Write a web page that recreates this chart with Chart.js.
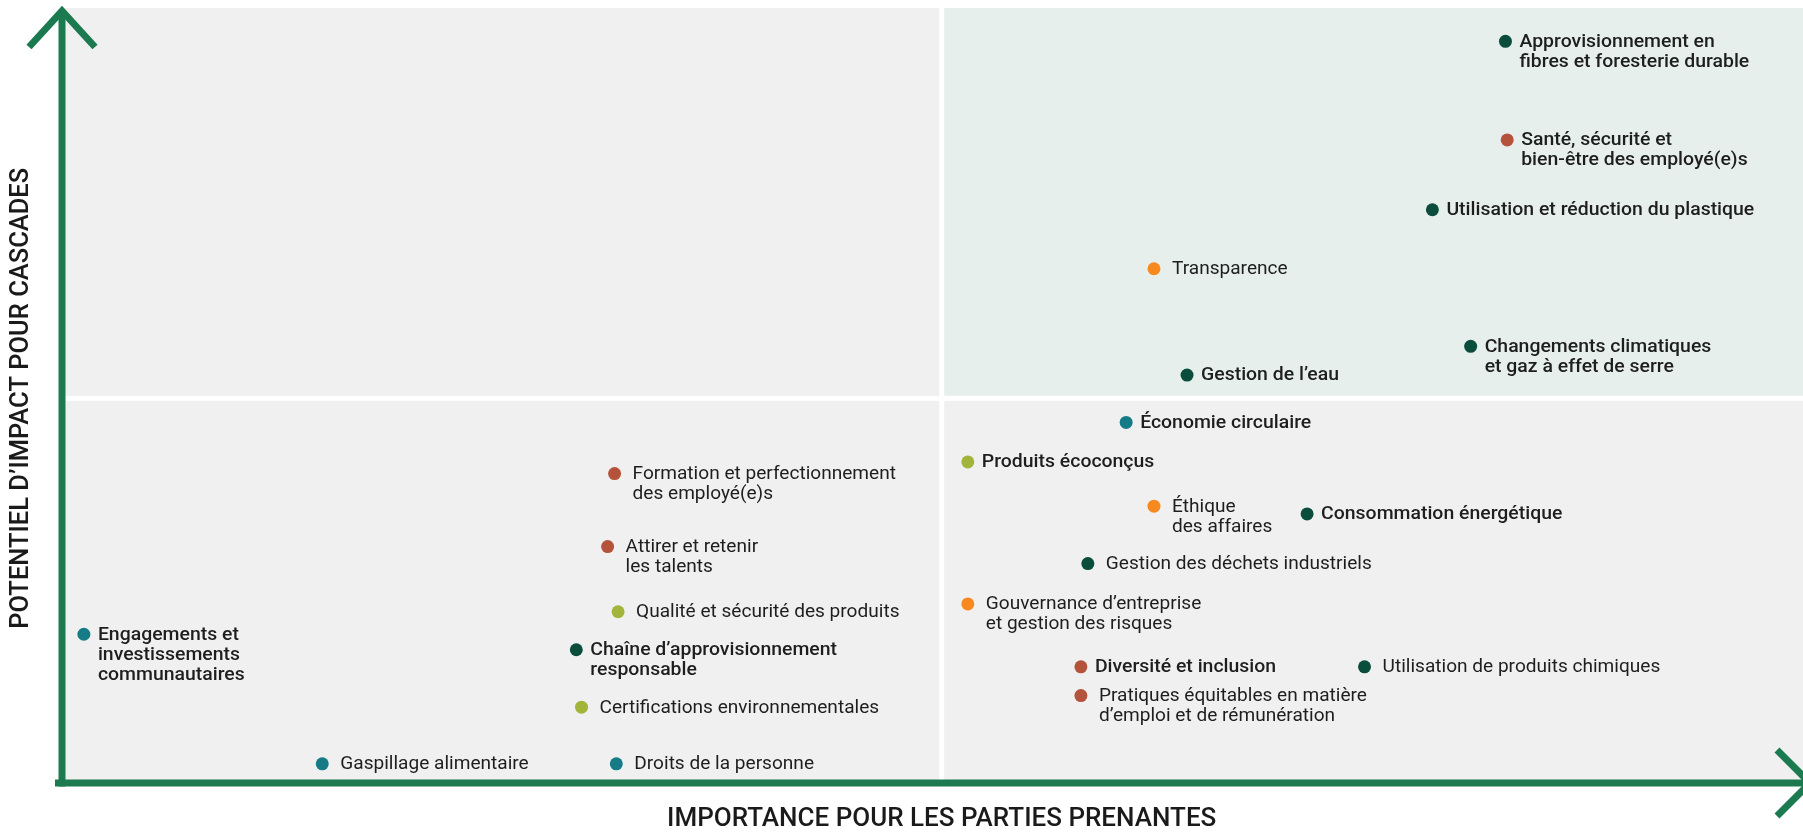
<!DOCTYPE html>
<html>
<head>
<meta charset="utf-8">
<script src="https://cdn.jsdelivr.net/npm/chart.js@4/dist/chart.umd.min.js"></script>
<style>
  html, body { margin: 0; padding: 0; background: #ffffff; }
  #wrap { width: 1803px; height: 833px; }
</style>
</head>
<body>
<div id="wrap"><canvas id="c" width="1803" height="833"></canvas></div>
<script>
// ---- Data ----
const topicLabels = [
  ["Approvisionnement en", "fibres et foresterie durable"],
  ["Santé, sécurité et", "bien-être des employé(e)s"],
  ["Utilisation et réduction du plastique"],
  ["Transparence"],
  ["Changements climatiques", "et gaz à effet de serre"],
  ["Gestion de l’eau"],
  ["Économie circulaire"],
  ["Produits écoconçus"],
  ["Éthique", "des affaires"],
  ["Consommation énergétique"],
  ["Gestion des déchets industriels"],
  ["Gouvernance d’entreprise", "et gestion des risques"],
  ["Diversité et inclusion"],
  ["Utilisation de produits chimiques"],
  ["Pratiques équitables en matière", "d’emploi et de rémunération"],
  ["Formation et perfectionnement", "des employé(e)s"],
  ["Attirer et retenir", "les talents"],
  ["Qualité et sécurité des produits"],
  ["Chaîne d’approvisionnement", "responsable"],
  ["Certifications environnementales"],
  ["Engagements et", "investissements", "communautaires"],
  ["Gaspillage alimentaire"],
  ["Droits de la personne"]
];
// Importance pour les parties prenantes (0-100)
const importance = [82.9, 83.0, 78.7, 62.7, 80.9, 64.6, 61.1, 52.0, 62.7, 71.5, 58.9, 52.0, 58.5, 74.8, 58.5, 31.7, 31.3, 31.9, 29.5, 29.8, 1.2, 14.9, 31.8];
// Potentiel d'impact pour Cascades (0-100)
const impact = [95.7, 83.0, 74.0, 66.4, 56.4, 52.7, 46.6, 41.5, 35.8, 34.8, 28.4, 23.2, 15.1, 15.1, 11.4, 40.0, 30.6, 22.2, 17.3, 9.9, 19.3, 2.6, 2.6];
// Theme of each topic
const themes = ["env", "people", "env", "gov", "env", "env", "community", "product", "gov", "env", "env", "gov", "people", "env", "people", "people", "people", "product", "env", "product", "community", "community", "community"];
// Priority topics (bold labels)
const priority = [true, true, true, false, true, true, true, true, false, true, false, false, true, false, false, false, false, false, true, false, true, false, false];

const xAxisTitle = "IMPORTANCE POUR LES PARTIES PRENANTES";
const yAxisTitle = "POTENTIEL D’IMPACT POUR CASCADES";
const xMid = 50.5;
const yMid = 49.7;

// ---- Styles ----
const themeColors = {
  env: "#0b4d3c",
  people: "#b5523b",
  gov: "#f7891f",
  community: "#147b87",
  product: "#a3b43a"
};
const axisGreen = "#1b7a4f";

const points = importance.map((x, i) => ({ x: x, y: impact[i] }));

const backgroundPlugin = {
  id: "quadrants",
  beforeDatasetsDraw(chart) {
    const { ctx, chartArea, scales } = chart;
    const xm = scales.x.getPixelForValue(xMid);
    const ym = scales.y.getPixelForValue(yMid);
    ctx.save();
    ctx.fillStyle = "#f0f0f0";
    ctx.fillRect(chartArea.left + 2, chartArea.top, chartArea.right - chartArea.left - 2, chartArea.bottom - chartArea.top);
    ctx.fillStyle = "#e6efeb";
    ctx.fillRect(xm, chartArea.top, chartArea.right - xm, ym - chartArea.top);
    ctx.fillStyle = "#ffffff";
    ctx.fillRect(xm - 2.5, chartArea.top, 5, chartArea.bottom - chartArea.top);
    ctx.fillRect(chartArea.left, ym - 2.5, chartArea.right - chartArea.left, 5);
    ctx.restore();
  }
};

const labelPlugin = {
  id: "pointLabels",
  afterDatasetsDraw(chart) {
    const { ctx } = chart;
    const meta = chart.getDatasetMeta(0);
    ctx.save();
    ctx.fillStyle = "#1e1e1e";
    ctx.textBaseline = "middle";
    ctx.textAlign = "left";
    meta.data.forEach((el, i) => {
      const bold = priority[i];
      ctx.font = (bold ? "500" : "400") + " 17.5px Roboto";
      const gap = bold ? 14 : 18;
      const sx = bold ? 1.11 : 1.09;
      topicLabels[i].forEach((line, j) => {
        ctx.save();
        ctx.translate(el.x + gap, el.y + 1 + j * 20);
        ctx.scale(sx, 1);
        ctx.fillText(line, 0, 0);
        ctx.restore();
      });
    });
    ctx.restore();
  }
};

const axesPlugin = {
  id: "arrowAxes",
  afterDraw(chart) {
    const { ctx, chartArea } = chart;
    const L = chartArea.left - 1;
    const B = chartArea.bottom - 1;
    ctx.save();
    ctx.strokeStyle = axisGreen;
    ctx.lineWidth = 7;
    ctx.lineJoin = "miter";
    ctx.lineCap = "butt";
    // vertical axis
    ctx.beginPath();
    ctx.moveTo(L, B + 3.5);
    ctx.lineTo(L, chartArea.top + 3);
    ctx.stroke();
    ctx.beginPath();
    ctx.moveTo(L - 33, chartArea.top + 39);
    ctx.lineTo(L, chartArea.top + 3);
    ctx.lineTo(L + 33, chartArea.top + 39);
    ctx.stroke();
    // horizontal axis
    ctx.beginPath();
    ctx.moveTo(L - 7, B);
    ctx.lineTo(chartArea.right + 5, B);
    ctx.stroke();
    ctx.beginPath();
    ctx.moveTo(chartArea.right - 26, B - 33);
    ctx.lineTo(chartArea.right + 7, B);
    ctx.lineTo(chartArea.right - 26, B + 33);
    ctx.stroke();

    // axis titles
    ctx.fillStyle = "#1a1a1a";
    ctx.textAlign = "center";
    ctx.textBaseline = "middle";
    ctx.font = "500 26px Roboto";
    ctx.fillText(xAxisTitle, chart.scales.x.getPixelForValue(xMid), 819);
    ctx.save();
    ctx.translate(22, chart.scales.y.getPixelForValue(yMid));
    ctx.rotate(-Math.PI / 2);
    ctx.font = "500 25.5px Roboto";
    ctx.fillText(yAxisTitle, 0, 0);
    ctx.restore();
    ctx.restore();
  }
};

new Chart(document.getElementById("c"), {
  type: "scatter",
  data: {
    datasets: [{
      data: points,
      pointRadius: 6.5,
      pointHoverRadius: 6.5,
      pointBorderWidth: 0,
      pointBackgroundColor: themes.map(t => themeColors[t]),
      pointBorderColor: themes.map(t => themeColors[t]),
      clip: false
    }]
  },
  options: {
    responsive: false,
    animation: false,
    events: [],
    layout: { autoPadding: false, padding: { left: 63, right: 0, top: 8, bottom: 49 } },
    plugins: { legend: { display: false }, tooltip: { enabled: false } },
    scales: {
      x: { type: "linear", min: 0, max: 100, display: false },
      y: { type: "linear", min: 0, max: 100, display: false }
    }
  },
  plugins: [backgroundPlugin, labelPlugin, axesPlugin]
});
</script>
</body>
</html>
